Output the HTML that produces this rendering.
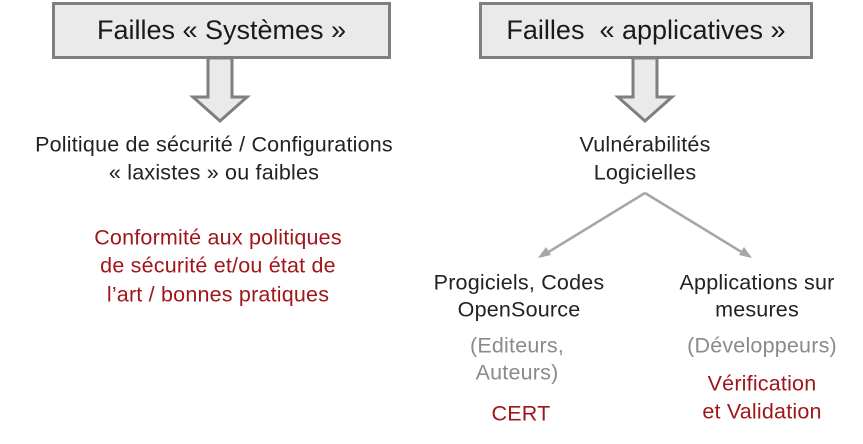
<!DOCTYPE html>
<html><head><meta charset="utf-8"><style>
body{margin:0;width:863px;height:444px;background:#fff;position:relative;overflow:hidden;font-family:"Liberation Sans",sans-serif;}
.t{position:absolute;transform:translate(-50%,-50%);white-space:nowrap;font-size:21.5px;letter-spacing:0.2px;color:#222;}
.r{color:#a0161b}.g{color:#8a8a8a}
.box{position:absolute;background:#eaeaea;border:3px solid #7f7f7f;box-sizing:border-box;font-size:27px;color:#1a1a1a;display:flex;align-items:center;justify-content:center;}
</style></head><body>
<div class="box" style="left:52px;top:2px;width:339px;height:57px">Failles « Systèmes »</div>
<div class="box" style="left:479px;top:2px;width:334px;height:57px">Failles &nbsp;« applicatives »</div>
<svg width="863" height="444" style="position:absolute;left:0;top:0">
<polygon points="208,58 232,58 232,97 247,97 220,121 193,97 208,97" fill="#eaeaea" stroke="#7f7f7f" stroke-width="3"/>
<polygon points="633,58 657,58 657,97 672,97 645,121 618,97 633,97" fill="#eaeaea" stroke="#7f7f7f" stroke-width="3"/>
<g stroke="#a6a6a6" stroke-width="2.5" fill="none">
<line x1="645" y1="193" x2="542" y2="256"/><line x1="645" y1="193" x2="748" y2="256"/>
</g>
<polygon points="538,258 546,247 551,255" fill="#a6a6a6"/>
<polygon points="752,258 744,247 739,255" fill="#a6a6a6"/>
</svg>
<div class="t" style="left:214px;top:145px">Politique de sécurité / Configurations</div>
<div class="t" style="left:214px;top:173px">« laxistes » ou faibles</div>
<div class="t r" style="left:218px;top:238px">Conformité aux politiques</div>
<div class="t r" style="left:218px;top:266px">de sécurité et/ou état de</div>
<div class="t r" style="left:218px;top:295px">l’art / bonnes pratiques</div>
<div class="t" style="left:645px;top:145px">Vulnérabilités</div>
<div class="t" style="left:645px;top:173px">Logicielles</div>
<div class="t" style="left:519px;top:283px">Progiciels, Codes</div>
<div class="t" style="left:519px;top:310px">OpenSource</div>
<div class="t" style="left:757px;top:283px">Applications sur</div>
<div class="t" style="left:757px;top:310px">mesures</div>
<div class="t g" style="left:517px;top:346px">(Editeurs,</div>
<div class="t g" style="left:517px;top:373px">Auteurs)</div>
<div class="t g" style="left:762px;top:346px">(Développeurs)</div>
<div class="t r" style="left:521px;top:414px">CERT</div>
<div class="t r" style="left:762px;top:384px">Vérification</div>
<div class="t r" style="left:762px;top:412px">et Validation</div>
</body></html>
